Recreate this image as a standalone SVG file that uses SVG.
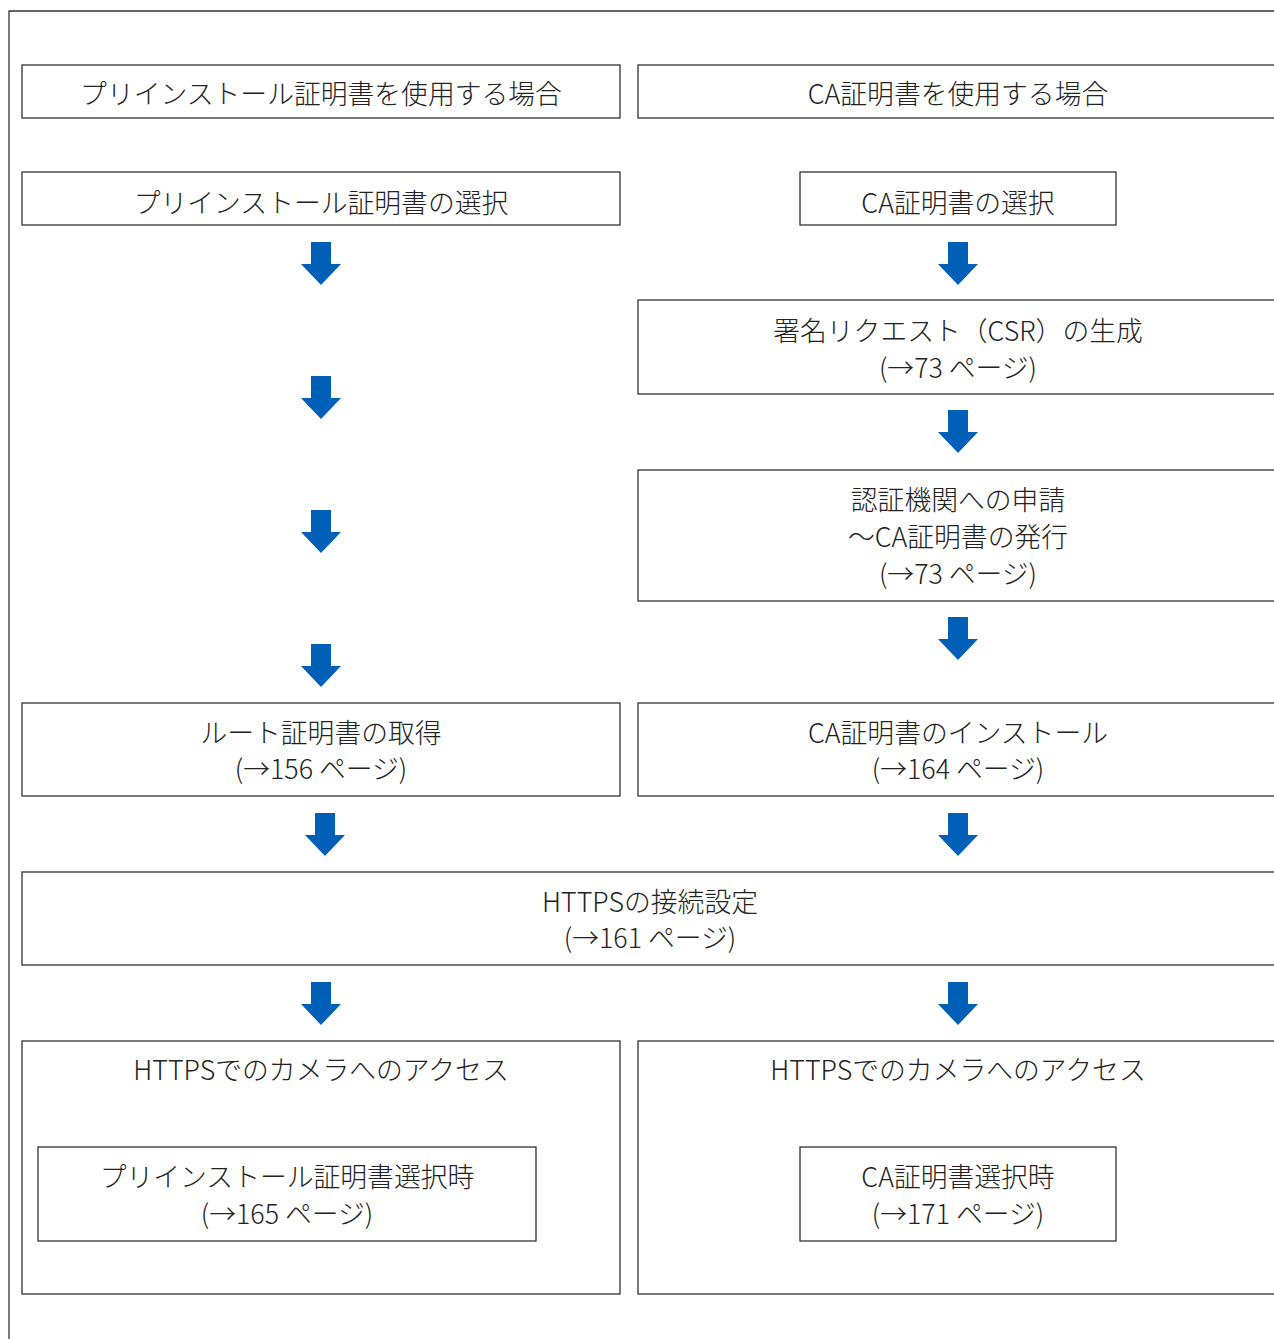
<svg xmlns="http://www.w3.org/2000/svg" width="1274" height="1339" viewBox="0 0 1274 1339">
<style>
.box{fill:#fff;stroke:#333;stroke-width:1.3}
.frame{fill:none;stroke:#333;stroke-width:1.3}
text{font-family:"Noto Sans CJK JP","Noto Sans",sans-serif;font-size:26.8px;fill:#222;text-anchor:middle;font-weight:300}
.arr{fill:#0060b8}
</style>
<defs>
<path id="down" d="M-10,-43 H10 V-21 H20 L0,0 L-20,-21 H-10 Z"/>
</defs>
<rect width="1274" height="1339" fill="#fff"/>
<path class="frame" d="M9,1339 V11 H1274"/>

<g id="n-pre-head"><rect class="box" x="22" y="65" width="598" height="53"/><text x="321" y="104">プリインストール証明書を使用する場合</text></g>
<g id="n-ca-head"><rect class="box" x="638" y="65" width="660" height="53"/><text x="958" y="104">CA証明書を使用する場合</text></g>
<g id="n-pre-sel"><rect class="box" x="22" y="172" width="598" height="53"/><text x="321" y="213">プリインストール証明書の選択</text></g>
<g id="n-ca-sel"><rect class="box" x="800" y="172" width="316" height="53"/><text x="958" y="213">CA証明書の選択</text></g>
<g id="n-csr"><rect class="box" x="638" y="300" width="660" height="94"/><text x="958" y="341">署名リクエスト（CSR）の生成</text><text x="958" y="378">(→73 ページ)</text></g>
<g id="n-apply"><rect class="box" x="638" y="470" width="660" height="131"/><text x="958" y="510">認証機関への申請</text><text x="958" y="547">〜CA証明書の発行</text><text x="958" y="584">(→73 ページ)</text></g>
<g id="n-root"><rect class="box" x="22" y="703" width="598" height="93"/><text x="321" y="743">ルート証明書の取得</text><text x="321" y="779">(→156 ページ)</text></g>
<g id="n-ca-inst"><rect class="box" x="638" y="703" width="660" height="93"/><text x="958" y="743">CA証明書のインストール</text><text x="958" y="779">(→164 ページ)</text></g>
<g id="n-https"><rect class="box" x="22" y="872" width="1276" height="93"/><text x="650" y="912">HTTPSの接続設定</text><text x="650" y="948">(→161 ページ)</text></g>
<g id="n-access-pre"><rect class="box" x="22" y="1041" width="598" height="253"/><text x="321" y="1080">HTTPSでのカメラへのアクセス</text>
<rect class="box" x="38" y="1147" width="498" height="94"/><text x="287" y="1187">プリインストール証明書選択時</text><text x="287" y="1224">(→165 ページ)</text></g>
<g id="n-access-ca"><rect class="box" x="638" y="1041" width="660" height="253"/><text x="958" y="1080">HTTPSでのカメラへのアクセス</text>
<rect class="box" x="800" y="1147" width="316" height="94"/><text x="958" y="1187">CA証明書選択時</text><text x="958" y="1224">(→171 ページ)</text></g>

<g id="connectors" class="arr">
<use href="#down" x="321" y="285"/>
<use href="#down" x="321" y="419"/>
<use href="#down" x="321" y="553"/>
<use href="#down" x="321" y="687"/>
<use href="#down" x="325" y="856"/>
<use href="#down" x="321" y="1025"/>
<use href="#down" x="958" y="285"/>
<use href="#down" x="958" y="453"/>
<use href="#down" x="958" y="660"/>
<use href="#down" x="958" y="856"/>
<use href="#down" x="958" y="1025"/>
</g>
</svg>
